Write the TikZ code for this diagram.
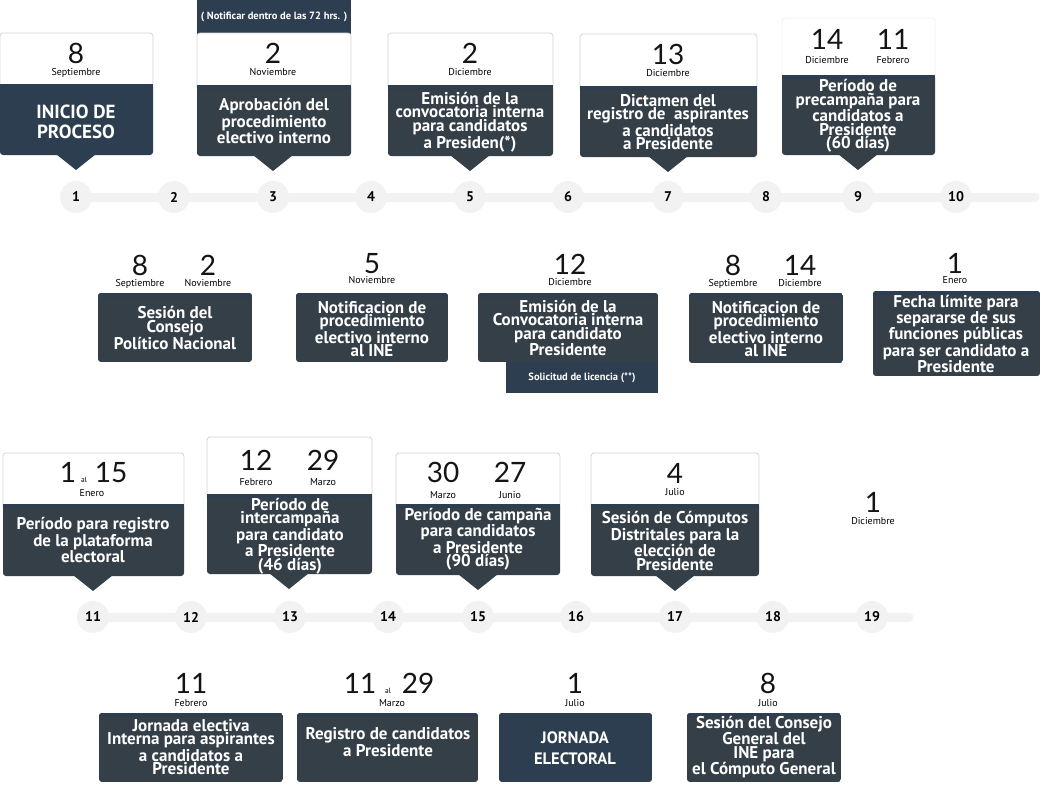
\documentclass[tikz,border=0pt]{standalone}
\usepackage{fontspec}
\setmainfont{PT Sans}
\newfontfamily\numfont{Lato}
\definecolor{darkA}{HTML}{2C3E50}
\definecolor{darkB}{HTML}{343F48}
\definecolor{lineg}{HTML}{F2F2F2}
\definecolor{bord}{HTML}{D4D4D4}
\definecolor{numc}{HTML}{141414}
\tikzset{
  ctext/.style={text=white, font=\bfseries\fontsize{17}{13.5}\selectfont, align=center, inner sep=0pt},
  cbig/.style={text=white, font=\bfseries\fontsize{19}{20.5}\selectfont, align=center, inner sep=0pt},
  cjorn/.style={text=white, font=\bfseries\fontsize{16.5}{21}\selectfont, align=center, inner sep=0pt},
  numst/.style={anchor=base, inner sep=0pt, font=\numfont\fontsize{28}{28}\selectfont, text=numc},
  monst/.style={anchor=base, inner sep=0pt, font=\fontsize{10}{10}\selectfont, text=black},
  alst/.style={anchor=base, inner sep=0pt, font=\fontsize{7.5}{7.5}\selectfont, text=black},
  smallw/.style={text=white, inner sep=0pt, font=\bfseries\fontsize{10.5}{10.5}\selectfont},
  circ/.style={circle, fill=lineg, minimum size=32pt, inner sep=0pt, font=\bfseries\fontsize{14}{14}\selectfont},
  tl/.style={draw=lineg, line width=9pt, line cap=round},
}
% card with white date header, dark body and pointer
\newcommand\card[8]{%
  \filldraw[fill=white, draw=#8, line width=0.8pt, rounded corners=3pt] (#1,#3+6) rectangle (#4,#2);
  \fill[#7, rounded corners=3pt] (#1,#3) rectangle (#4,#5);
  \fill[#7] (#1,#3) rectangle (#4,#3+6);
  \fill[darkA] (#1,#3) rectangle (#4,#3+4);
  \fill[#7] (#6-20,#5-1) -- (#6,#5+15) -- (#6+20,#5-1) -- cycle;
}
% plain dark box
\newcommand\dbox[5]{%
  \begin{scope}
    \clip[rounded corners=3pt] (#1,#2) rectangle (#3,#4);
    \fill[#5] (#1,#2) rectangle (#3,#4);
    \fill[darkA] (#1,#2) rectangle (#3,#2+4);
  \end{scope}
}
% name, x, number baseline, number, month, month baseline
\newcommand\datum[6]{%
  \node[numst] (#1n) at (#2,#3) {#4};
  \node[monst] (#1m) at (#2,#6) {#5};
}
\begin{document}
\begin{tikzpicture}[x=1pt,y=-1pt]
\useasboundingbox (0,0) rectangle (1040,796);

% ---------- timelines ----------
\coordinate (l1a) at (76,197);
\coordinate (l1b) at (1035,197);
\draw[tl] (l1a) -- (l1b);
\foreach \i/\x in {1/76,2/174,3/273,4/371,5/470,6/568,7/668,8/766,9/858,10/956}
  {\node[circ] (c\i) at (\x,197) {\i};}
\coordinate (l3a) at (93,617);
\coordinate (l3b) at (909,617);
\draw[tl] (l3a) -- (l3b);
\foreach \i/\x in {11/93,12/191,13/290,14/388,15/478,16/576,17/675,18/773,19/872}
  {\node[circ] (c\i) at (\x,617) {\i};}

% ---------- row 1 cards ----------
\card{0}{33}{84}{153}{155}{76}{darkA}{bord}
\datum{d1}{76}{63}{8}{Septiembre}{75}
\node[cbig] (t1) at (76,122) {INICIO DE\\PROCESO};

\fill[darkA] (197,0) rectangle (351,34);
\node[smallw] (nota) at (274,17) {( Notificar dentro de las 72 hrs. )};
\card{197}{33}{85}{351}{156}{273}{darkB}{bord}
\datum{d3}{273}{63}{2}{Noviembre}{75}
\node[ctext] (t3) at (274,121) {Aprobación del\\procedimiento\\electivo interno};

\card{388}{33}{85}{553}{156}{470}{darkB}{bord}
\datum{d5}{470}{63}{2}{Diciembre}{75}
\node[ctext] (t5) at (470,122) {Emisión de la\\convocatoria interna\\para candidatos\\a Presiden(*)};

\card{580}{34}{86}{757}{157}{668}{darkB}{bord}
\datum{d7}{668}{64}{13}{Diciembre}{76}
\node[ctext] (t7) at (668,122) {Dictamen del\\registro de\ \ aspirantes\\a candidatos\\a Presidente};

\card{782}{18}{75}{935}{155}{858}{darkB}{white!94!black}
\datum{d9a}{827}{49}{14}{Diciembre}{63}
\datum{d9b}{893}{49}{11}{Febrero}{63}
\node[ctext] (t9) at (858,116) {Período de\\precampaña para\\candidatos a\\Presidente\\(60 días)};

% ---------- row 2 boxes ----------
\datum{e1a}{140}{275}{8}{Septiembre}{286}
\datum{e1b}{208}{275}{2}{Noviembre}{286}
\dbox{98}{293}{252}{362}{darkB}
\node[ctext] (u1) at (175,328) {Sesión del\\Consejo\\Político Nacional};

\datum{e2}{372}{273}{5}{Noviembre}{283}
\dbox{296}{293}{448}{362}{darkB}
\node[ctext] (u2) at (372,329) {Notificacion de\\procedimiento\\electivo interno\\al INE};

\datum{e3}{570}{274}{12}{Diciembre}{285}
\fill[darkA] (506,358) rectangle (658,393);
\dbox{478}{293}{658}{362}{darkB}
\node[ctext] (u3) at (568,328) {Emisión de la\\Convocatoria interna\\para candidato\\Presidente};
\node[smallw] (sol) at (582,378) {Solicitud de licencia (**)};

\datum{e4a}{733}{275}{8}{Septiembre}{286}
\datum{e4b}{800}{275}{14}{Diciembre}{286}
\dbox{689}{293}{843}{363}{darkB}
\node[ctext] (u4) at (766,329) {Notificacion de\\procedimiento\\electivo interno\\al INE};

\datum{e5}{955}{273}{1}{Enero}{283}
\dbox{873}{291}{1040}{376}{darkB}
\node[ctext] (u5) at (956,334) {Fecha límite para\\separarse de sus\\funciones públicas\\para ser candidato a\\Presidente};

% ---------- row 3 cards ----------
\card{3}{453}{504}{184}{576}{93}{darkB}{bord}
\node[numst] (f1a) at (68,482) {1};
\node[alst] (f1al) at (84,482) {al};
\node[numst] (f1b) at (111,482) {15};
\node[monst] (f1m) at (92,496) {Enero};
\node[ctext] (v1) at (93,540) {Período para registro\\de la plataforma\\electoral};

\card{207}{437}{494}{372}{574}{289}{darkB}{bord}
\datum{f2a}{256}{470}{12}{Febrero}{485}
\datum{f2b}{323}{470}{29}{Marzo}{485}
\node[ctext] (v2) at (290,536) {Período de\\intercampaña\\para candidato\\a Presidente\\(46 días)};

\card{396}{453}{504}{560}{575}{478}{darkB}{bord}
\datum{f3a}{443}{482}{30}{Marzo}{498}
\datum{f3b}{510}{482}{27}{Junio}{498}
\node[ctext] (v3) at (478,539) {Período de campaña\\para candidatos\\a Presidente\\(90 días)};

\card{591}{453}{504}{759}{576}{675}{darkB}{bord}
\datum{f4}{675}{483}{4}{Julio}{495}
\node[ctext] (v4) at (675,541) {Sesión de Cómputos\\Distritales para la\\elección de\\Presidente};

\datum{f5}{873}{512}{1}{Diciembre}{524}

% ---------- row 4 boxes ----------
\datum{g1}{191}{693}{11}{Febrero}{706}
\dbox{99}{713}{283}{782}{darkB}
\node[ctext] (w1) at (191,747) {Jornada electiva\\Interna para aspirantes\\a candidatos a\\Presidente};

\node[numst] (g2a) at (360,693) {11};
\node[alst] (g2al) at (388,693) {al};
\node[numst] (g2b) at (418,693) {29};
\node[monst] (g2m) at (392,706) {Marzo};
\dbox{297}{713}{478}{782}{darkB}
\node[ctext] (w2) at (388,742) {Registro de candidatos\\a Presidente};

\datum{g3}{575}{693}{1}{Julio}{706}
\dbox{499}{713}{652}{782}{darkA}
\node[cjorn] (w3) at (575,748) {JORNADA\\ELECTORAL};

\datum{g4}{768}{693}{8}{Julio}{706}
\dbox{687}{713}{841}{782}{darkB}
\node[ctext] (w4) at (764,747) {Sesión del Consejo\\General del\\INE para\\el Cómputo General};

\end{tikzpicture}
\end{document}
